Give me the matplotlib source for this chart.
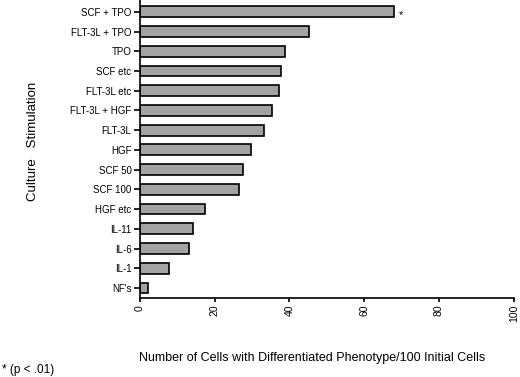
import matplotlib.pyplot as plt

plt.rcParams['font.family'] = ['Liberation Sans', 'DejaVu Sans']

# culture conditions, top to bottom
conditions = ["SCF + TPO", "FLT-3L + TPO", "TPO", "SCF etc", "FLT-3L etc",
              "FLT-3L + HGF", "FLT-3L", "HGF", "SCF 50", "SCF 100",
              "HGF etc", "IL-11", "IL-6", "IL-1", "NF's"]
cells = [68.0, 45.3, 38.7, 37.7, 37.3, 35.3, 33.3, 29.7, 27.5, 26.6,
         17.4, 14.1, 13.1, 7.8, 2.3]
significant = ["SCF + TPO"]
xticks = [0, 20, 40, 60, 80, 100]

fig = plt.figure(figsize=(5.2, 3.77), dpi=100)
ax = fig.add_axes([0.269, 0.21, 0.719, 0.79])

ypos = list(range(len(conditions)))[::-1]
ax.barh(ypos, cells, height=0.55, color="#a3a3a3", edgecolor="black", linewidth=1.2)

for name, y, v in zip(conditions, ypos, cells):
    if name in significant:
        ax.text(v + 1.2, y - 0.15, "*", fontsize=8, ha="left", va="center")

ax.set_xlim(0, 100)
ax.set_ylim(-0.5, 14.6)
ax.set_yticks(ypos)
ax.set_yticklabels(conditions, fontsize=7)
ax.set_xticks(xticks)
ax.set_xticklabels([str(t) for t in xticks], fontsize=7.5, rotation=90)

for s in ["top", "right"]:
    ax.spines[s].set_visible(False)
ax.spines["left"].set_linewidth(1.2)
ax.spines["bottom"].set_linewidth(1.2)
ax.tick_params(axis="y", length=4, width=1.2, pad=2)
ax.tick_params(axis="x", length=3, width=1.2, pad=2)

fig.text(33 / 520, 1 - 141 / 377, "Culture   Stimulation", fontsize=9.5, rotation=90,
         ha="center", va="center")
fig.text(312 / 520, 1 - 358 / 377,
         "Number of Cells with Differentiated Phenotype/100 Initial Cells",
         fontsize=9, ha="center", va="center")
fig.text(0.004, 1 - 370 / 377, "* (p < .01)", fontsize=8.5, ha="left", va="center")

fig.savefig("out.png", dpi=100)
